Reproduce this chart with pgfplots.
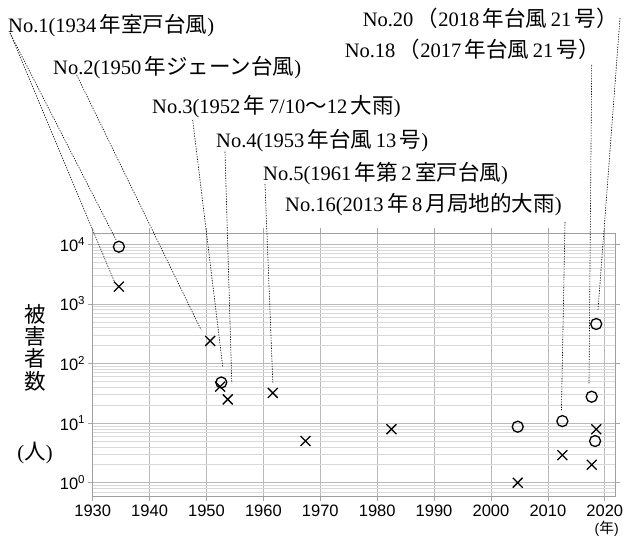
\documentclass[border=0pt]{standalone}
\usepackage{pgfplots}
\pgfplotsset{compat=1.18}
\usepackage{fontspec}
\setmainfont{Liberation Serif}
\setsansfont{Liberation Sans}
\newfontfamily\cjk[Scale=1.05]{Noto Sans CJK JP}
\newcommand{\J}[1]{{\cjk #1}}
\begin{document}
\begin{tikzpicture}[x=1pt,y=1pt]
\useasboundingbox (0,0) rectangle (629,539);
\begin{axis}[
  at={(92.7pt,43pt)}, anchor=south west,
  scale only axis, width=522.3pt, height=262.7pt,
  xmin=1930, xmax=2021.8,
  ymode=log, ymin=0.598, ymax=15300,
  xtick={1930,1940,...,2020},
  ytick={1,10,100,1000,10000},
  yticklabels={10\textsuperscript{0},10\textsuperscript{1},10\textsuperscript{2},10\textsuperscript{3},10\textsuperscript{4}},
  minor ytick={0.6,0.7,0.8,0.9,2,3,4,5,6,7,8,9,20,30,40,50,60,70,80,90,200,300,400,500,600,700,800,900,2000,3000,4000,5000,6000,7000,8000,9000},
  /pgf/number format/assume math mode=true,
  xticklabel={\pgfmathprintnumber[1000 sep={}]{\tick}},
  tick label style={font=\sffamily\fontsize{16.5}{16.5}\selectfont, text=black},
  tick align=outside,
  major tick length=5pt, minor tick length=0pt,
  every tick/.style={gray!70, line width=0.6pt},
  grid=both,
  major grid style={gray!55, line width=0.6pt},
  minor grid style={gray!30, line width=0.6pt},
  axis line style={gray!75, line width=0.8pt},
  clip=false,
  xticklabel style={yshift=0pt},
  yticklabel style={xshift=1pt},
]
\addplot[only marks, mark=o, mark size=5.5pt, line width=1.3pt, black] coordinates {
  (1934.6,9100) (1952.6,48) (2004.7,8.7) (2012.55,10.8) (2017.7,27.7) (2018.5,460) (2018.3,5)
};
\addplot[only marks, mark=x, mark size=7pt, line width=1.3pt, black] coordinates {
  (1934.6,1950) (1950.65,239) (1952.4,41) (1953.74,25) (1961.66,32) (1967.4,5) (1982.5,7.9)
  (2004.7,1) (2012.55,2.9) (2017.7,2) (2018.5,7.9)
};
\coordinate (e1a) at (axis cs:1934.12,11800);
\coordinate (e1b) at (axis cs:1933.82,2357);
\coordinate (e2) at (axis cs:1949.06,365);
\coordinate (e3) at (axis cs:1952.86,88.3);
\coordinate (e4) at (axis cs:1954.45,46.5);
\coordinate (e5) at (axis cs:1961.66,47.6);
\coordinate (e16) at (axis cs:2012.38,15.5);
\coordinate (e18) at (axis cs:2017.23,46.5);
\coordinate (e20) at (axis cs:2018.81,790);
\end{axis}
\tikzset{leader/.style={black, line width=0.6pt, dash pattern=on 1.3pt off 1.3pt}}
\draw[leader] (10,506) -- (e1a);
\draw[leader] (10,506) -- (e1b);
\draw[leader] (76.7,464) -- (e2);
\draw[leader] (192.7,419) -- (e3);
\draw[leader] (225,387.3) -- (e4);
\draw[leader] (265,355) -- (e5);
\draw[leader] (565,317) -- (e16);
\draw[leader] (591.7,474) -- (e18);
\draw[leader] (620,521) -- (e20);
\tikzset{lab/.style={inner sep=0pt, font=\fontsize{20.5}{24}\selectfont}}
\node[lab, anchor=base west] at (8,506) {No.1(1934\,\J{年室戸台風})};
\node[lab, anchor=base west] at (53,464) {No.2(1950\,\J{年ジェーン台風})};
\node[lab, anchor=base west] at (152,425) {No.3(1952\,\J{年}\,7/10\J{～}12\,\J{大雨})};
\node[lab, anchor=base west] at (216,391) {No.4(1953\,\J{年台風}\,13\,\J{号})};
\node[lab, anchor=base west] at (263,358) {No.5(1961\,\J{年第}\,2\,\J{室戸台風})};
\node[lab, anchor=base west] at (285,327) {No.16(2013\,\J{年}\,8\,\J{月局地的大雨})};
\node[lab, anchor=base east] at (618,512) {No.20\,\J{（}2018\,\J{年台風}\,21\,\J{号）}};
\node[lab, anchor=base east] at (600,481) {No.18\,\J{（}2017\,\J{年台風}\,21\,\J{号）}};
\node[inner sep=0pt, align=center, font=\cjk\fontsize{20.5}{22.3}\selectfont] at (35,191.5) {被\\害\\者\\数};
\node[inner sep=0pt, font=\fontsize{20.5}{24}\selectfont] at (35,86) {(\J{人})};
\node[inner sep=0pt, anchor=south, font=\sffamily\fontsize{14}{14}\selectfont] at (606.7,2) {(\J{年})};
\end{tikzpicture}
\end{document}
